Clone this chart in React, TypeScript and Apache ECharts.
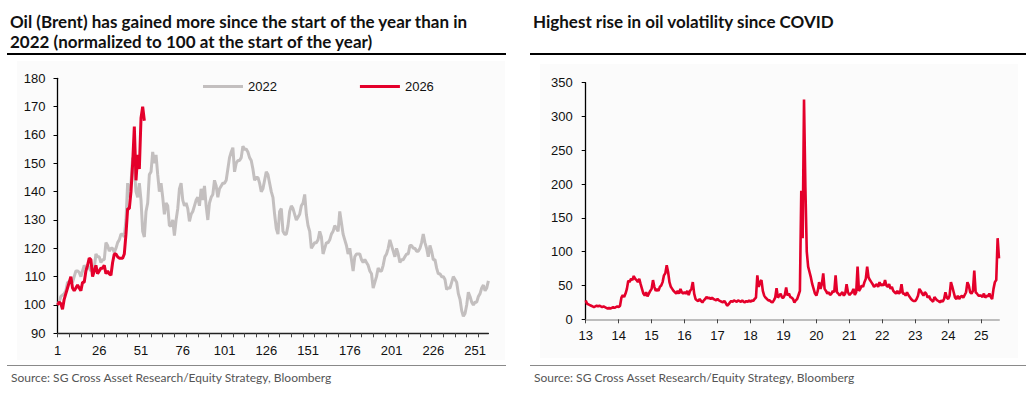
import React, { useEffect, useRef } from "react";
import * as echarts from "echarts";

// ---------- Left chart: Brent normalised to 100 ----------
const brent2022: number[] = [
  100, 101, 103, 103.5, 104, 105, 108, 108, 109, 108,
  110, 112, 112, 111.5, 110, 112, 114, 113, 114, 113,
  112, 113, 113, 118, 117, 117, 115, 116, 116, 122,
  121, 119, 120, 120, 118.5, 120, 122, 123, 125, 125,
  124, 130, 143, 138, 143, 152, 148, 140, 138, 143,
  137, 126, 124, 133, 136, 146, 147, 154, 150, 153,
  146, 140, 143, 138, 132, 136, 135, 128, 128, 130,
  124.5, 130, 134, 141, 143, 137, 135, 136, 134, 129.5,
  132, 133, 135, 137, 138, 135, 141, 137, 142, 135,
  130, 136, 138, 139, 144, 142, 138, 141, 142, 143,
  143, 144, 148, 152, 154, 155.5, 147, 150, 151, 151,
  152, 156, 155, 155, 154, 152, 151, 148, 144, 145,
  145, 143, 140, 141, 144, 147, 146, 143, 140, 138,
  132, 127, 125, 133, 134, 126, 125, 125, 128, 133,
  135, 134, 132, 130, 131, 132, 135, 136, 139, 132,
  128, 126, 120, 121, 122, 122, 123, 126, 124, 118,
  120, 122, 122, 123, 125, 126, 128, 127, 126, 133,
  129, 125, 123, 121, 118, 120, 116, 112, 117, 118,
  118, 118, 116, 115, 116, 115, 114, 112, 111, 106,
  108, 110, 113, 112, 112, 114, 117, 118, 120, 123,
  121, 119, 117, 120, 118, 115, 116, 116, 117, 118,
  118, 121, 121, 120, 120, 119, 119, 120, 122, 125,
  122, 120, 117, 121, 119, 116, 116, 113, 111, 111,
  110, 110, 109, 105.5, 106, 106, 108, 110, 109, 108,
  104, 102, 98, 96, 97, 100, 104.5, 103, 101, 100,
  101, 101, 103, 104, 106, 107, 105, 106, 108.5,
];

const brent2026: number[] = [
  100, 101, 100.5, 98.5, 102, 104, 106, 108, 110, 106,
  105, 106, 107, 106, 105, 108, 108, 112, 114, 116.5,
  116, 110, 112, 114, 111, 112, 113, 113, 114, 111,
  112, 111, 110.5, 115, 118, 118, 117, 116.5, 116.5, 116.5,
  118, 125, 134, 134, 140, 150, 163, 144, 153, 148,
  166, 170, 165,
];

const dayCategories: string[] = brent2022.map((_, i) => String(i + 1));

// ---------- Right chart: oil volatility (24 readings per year) ----------
const yearLabels: string[] = ["13", "14", "15", "16", "17", "18", "19", "20", "21", "22", "23", "24", "25"];
const vol13 = [28, 23, 22, 21, 20, 19, 18, 19, 20, 19, 20, 19, 18, 19, 18, 17, 16, 17, 16, 17, 18, 17, 18, 19];
const vol14 = [18, 20, 32, 36, 33, 38, 45, 57, 55, 60, 58, 64, 60, 58, 55, 60, 52, 45, 38, 35, 40, 34, 38, 42];
const vol15 = [45, 58, 48, 42, 45, 42, 48, 50, 55, 65, 68, 80, 70, 55, 48, 45, 42, 40, 38, 42, 38, 45, 40, 38];
const vol16 = [40, 38, 42, 36, 42, 45, 55, 38, 30, 28, 27, 30, 27, 25, 28, 30, 33, 31, 32, 30, 32, 30, 29, 28];
const vol17 = [30, 28, 27, 26, 25, 27, 24, 20, 22, 25, 27, 26, 28, 27, 26, 28, 27, 26, 28, 26, 25, 27, 26, 28];
const vol18 = [26, 28, 27, 30, 32, 65, 48, 55, 58, 42, 35, 32, 30, 28, 28, 26, 25, 28, 32, 46, 32, 35, 38, 32];
const vol19 = [32, 36, 47, 35, 38, 33, 32, 30, 25, 28, 30, 36, 42, 190, 120, 325, 195, 100, 78, 70, 62, 52, 45, 38];
const vol20 = [35, 42, 55, 45, 52, 68, 45, 42, 38, 40, 36, 38, 42, 40, 65, 40, 38, 35, 38, 40, 35, 38, 52, 40];
const vol21 = [36, 38, 40, 45, 36, 40, 78, 42, 45, 50, 48, 55, 60, 78, 62, 58, 55, 52, 48, 50, 52, 48, 55, 50];
const vol22 = [52, 50, 58, 50, 48, 52, 45, 48, 42, 40, 38, 42, 38, 40, 52, 38, 38, 35, 40, 36, 33, 30, 28, 27];
const vol23 = [27, 30, 35, 45, 42, 38, 35, 40, 38, 32, 35, 30, 28, 26, 33, 30, 28, 27, 25, 28, 26, 30, 40, 32];
const vol24 = [30, 35, 55, 48, 40, 32, 30, 35, 30, 33, 35, 32, 36, 40, 55, 50, 40, 38, 42, 72, 40, 38, 35, 35];
const vol25 = [35, 33, 38, 32, 35, 34, 38, 33, 30, 45, 55, 58, 120, 90];

const PER_YEAR = 24;
const volatility: number[] = [
  ...vol13, ...vol14, ...vol15, ...vol16, ...vol17, ...vol18, ...vol19,
  ...vol20, ...vol21, ...vol22, ...vol23, ...vol24, ...vol25,
];
const volCategories: string[] = volatility.map((_, i) =>
  i % PER_YEAR === 0 ? yearLabels[i / PER_YEAR] : ""
);

const RED = "#e4002b";
const GREY = "#c3bfbf";
const AXIS_FONT = "Liberation Sans, Arial, sans-serif";
const TITLE_FONT = "bold 17px Lato, 'Noto Sans', sans-serif";
const SRC_FONT = "12px Lato, 'Noto Sans', sans-serif";

export default function App() {
  const ref = useRef<HTMLDivElement>(null);

  useEffect(() => {
    if (!ref.current) return;
    const chart = echarts.init(ref.current, undefined, { renderer: "svg" });

    const option: any = {
      animation: false,
      backgroundColor: "#ffffff",
      legend: {
        data: ["2022", "2026"],
        left: 203,
        top: 80,
        padding: 0,
        itemWidth: 40,
        itemHeight: 3,
        itemGap: 83,
        icon: "rect",
        textStyle: { fontFamily: AXIS_FONT, fontSize: 13, color: "#111" },
      },
      graphic: [
        // plot backgrounds
        { type: "rect", z: -10, shape: { x: 17, y: 61, width: 488, height: 299 }, style: { fill: "#fbfbfb" } },
        { type: "rect", z: -10, shape: { x: 540, y: 64, width: 478, height: 294 }, style: { fill: "#fbfbfb" } },
        // titles
        { type: "text", x: 10, y: 21, style: { text: "Oil (Brent) has gained more since the start of the year than in", font: TITLE_FONT, fill: "#111", verticalAlign: "middle" } },
        { type: "text", x: 10, y: 41, style: { text: "2022 (normalized to 100 at the start of the year)", font: TITLE_FONT, fill: "#111", verticalAlign: "middle" } },
        { type: "text", x: 533, y: 21, style: { text: "Highest rise in oil volatility since COVID", font: TITLE_FONT, fill: "#111", verticalAlign: "middle" } },
        // title rules
        { type: "line", shape: { x1: 7, y1: 54, x2: 506, y2: 54 }, style: { stroke: "#000", lineWidth: 2 } },
        { type: "line", shape: { x1: 530, y1: 54, x2: 1026, y2: 54 }, style: { stroke: "#000", lineWidth: 2 } },
        // source rules
        { type: "line", shape: { x1: 7, y1: 365.5, x2: 506, y2: 365.5 }, style: { stroke: "#8a8a8a", lineWidth: 1 } },
        { type: "line", shape: { x1: 530, y1: 365.5, x2: 1026, y2: 365.5 }, style: { stroke: "#8a8a8a", lineWidth: 1 } },
        // sources
        { type: "text", x: 11, y: 377, style: { text: "Source: SG Cross Asset Research/Equity Strategy, Bloomberg", font: SRC_FONT, fill: "#555", verticalAlign: "middle" } },
        { type: "text", x: 534, y: 377, style: { text: "Source: SG Cross Asset Research/Equity Strategy, Bloomberg", font: SRC_FONT, fill: "#555", verticalAlign: "middle" } },
      ],
      grid: [
        { left: 57.5, right: 537.6, top: 78.3, bottom: 60.7 },
        { left: 585.7, right: 27, top: 82.7, bottom: 74.7 },
      ],
      xAxis: [
        {
          type: "category",
          gridIndex: 0,
          data: dayCategories,
          boundaryGap: false,
          axisLine: { lineStyle: { color: "#222", width: 1.3 } },
          axisTick: { interval: (i: number) => i % 7 === 0, length: 4, lineStyle: { color: "#444" } },
          axisLabel: {
            interval: (i: number) => i % 25 === 0,
            margin: 11,
            fontFamily: AXIS_FONT,
            fontSize: 13,
            color: "#111",
          },
          splitLine: { show: false },
        },
        {
          type: "category",
          gridIndex: 1,
          data: volCategories,
          boundaryGap: false,
          axisLine: { lineStyle: { color: "#bdbdbd", width: 2 } },
          axisTick: { interval: (i: number) => i % PER_YEAR === 0, length: 4, lineStyle: { color: "#444" } },
          axisLabel: {
            interval: (i: number) => i % PER_YEAR === 0,
            margin: 10,
            fontFamily: AXIS_FONT,
            fontSize: 13,
            color: "#111",
          },
          splitLine: { show: false },
        },
      ],
      yAxis: [
        {
          type: "value",
          gridIndex: 0,
          min: 90,
          max: 180,
          interval: 10,
          axisLine: { show: true, lineStyle: { color: "#000", width: 1.3 } },
          axisTick: { show: true, length: 4, lineStyle: { color: "#000" } },
          axisLabel: { margin: 12, fontFamily: AXIS_FONT, fontSize: 13, color: "#111" },
          splitLine: { show: false },
        },
        {
          type: "value",
          gridIndex: 1,
          min: 0,
          max: 350,
          interval: 50,
          axisLine: { show: true, lineStyle: { color: "#000", width: 1.3 } },
          axisTick: { show: true, length: 4, lineStyle: { color: "#000" } },
          axisLabel: { margin: 13, fontFamily: AXIS_FONT, fontSize: 13, color: "#111" },
          splitLine: { show: false },
        },
      ],
      series: [
        {
          name: "2022",
          type: "line",
          xAxisIndex: 0,
          yAxisIndex: 0,
          data: brent2022,
          showSymbol: false,
          color: GREY,
          lineStyle: { color: GREY, width: 3 },
          z: 2,
        },
        {
          name: "2026",
          type: "line",
          xAxisIndex: 0,
          yAxisIndex: 0,
          data: brent2026,
          showSymbol: false,
          color: RED,
          lineStyle: { color: RED, width: 3 },
          z: 3,
        },
        {
          name: "Oil volatility",
          type: "line",
          xAxisIndex: 1,
          yAxisIndex: 1,
          data: volatility,
          showSymbol: false,
          color: RED,
          lineStyle: { color: RED, width: 2.6 },
          z: 3,
        },
      ],
    };

    chart.setOption(option);
    return () => chart.dispose();
  }, []);

  return (
    <div
      ref={ref}
      style={{ position: "absolute", left: 0, top: 0, width: 1026, height: 394 }}
    />
  );
}
